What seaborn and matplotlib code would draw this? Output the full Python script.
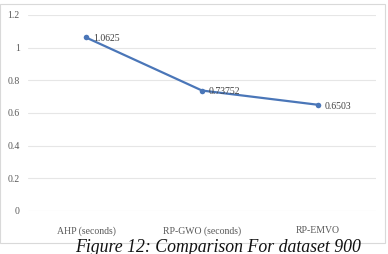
import matplotlib
matplotlib.use("Agg")
import pandas as pd
import seaborn as sns
import matplotlib.pyplot as plt
from matplotlib.patches import Rectangle

# donnees
methods = ["AHP (seconds)", "RP-GWO (seconds)", "RP-EMVO"]
times = [1.0625, 0.73752, 0.6503]
labels = ["1.0625", "0.73752", "0.6503"]
yticks = [0, 0.2, 0.4, 0.6, 0.8, 1, 1.2]

df = pd.DataFrame({"Method": methods, "Time": times})

sns.set_theme(style="white")
plt.rcParams["font.family"] = ["Liberation Serif", "DejaVu Serif"]

fig = plt.figure(figsize=(3.88, 2.54), dpi=100)
ax = fig.add_axes([28 / 388, 1 - 211 / 254, 348 / 388, 196 / 254])

sns.lineplot(data=df, x="Method", y="Time", ax=ax, sort=False,
             color="#4a76b8", linewidth=1.6, marker="o", markersize=4,
             markeredgewidth=0)

for i, (v, lab) in enumerate(zip(times, labels)):
    ax.annotate(lab, (i, v), xytext=(5, -1), textcoords="offset points",
                fontsize=7, color="#404040", va="center", ha="left")

ax.set_xlim(-0.5, 2.5)
ax.set_ylim(0, 1.2)
ax.set_yticks(yticks)
ax.set_yticklabels(["0", "0.2", "0.4", "0.6", "0.8", "1", "1.2"])
ax.grid(axis="y", color="#e6e6e6", linewidth=0.8)
ax.set_axisbelow(True)
for s in ax.spines.values():
    s.set_visible(False)
ax.tick_params(axis="x", length=0, labelsize=7, colors="#595959", pad=11)
ax.tick_params(axis="y", length=0, labelsize=7, colors="#595959", pad=6)
ax.set_xlabel("")
ax.set_ylabel("")

# cadre du graphique
fig.patches.append(Rectangle((0.0, 1 - 243 / 254), 385 / 388, 239 / 254,
                             transform=fig.transFigure, fill=False,
                             edgecolor="#d9d9d9", linewidth=0.8))

fig.text(75 / 388, 1 - 239 / 254, "Figure 12: Comparison For dataset 900",
         fontsize=12.8, style="italic", va="top", ha="left", color="#111111")

fig.savefig("out.png", dpi=100)
